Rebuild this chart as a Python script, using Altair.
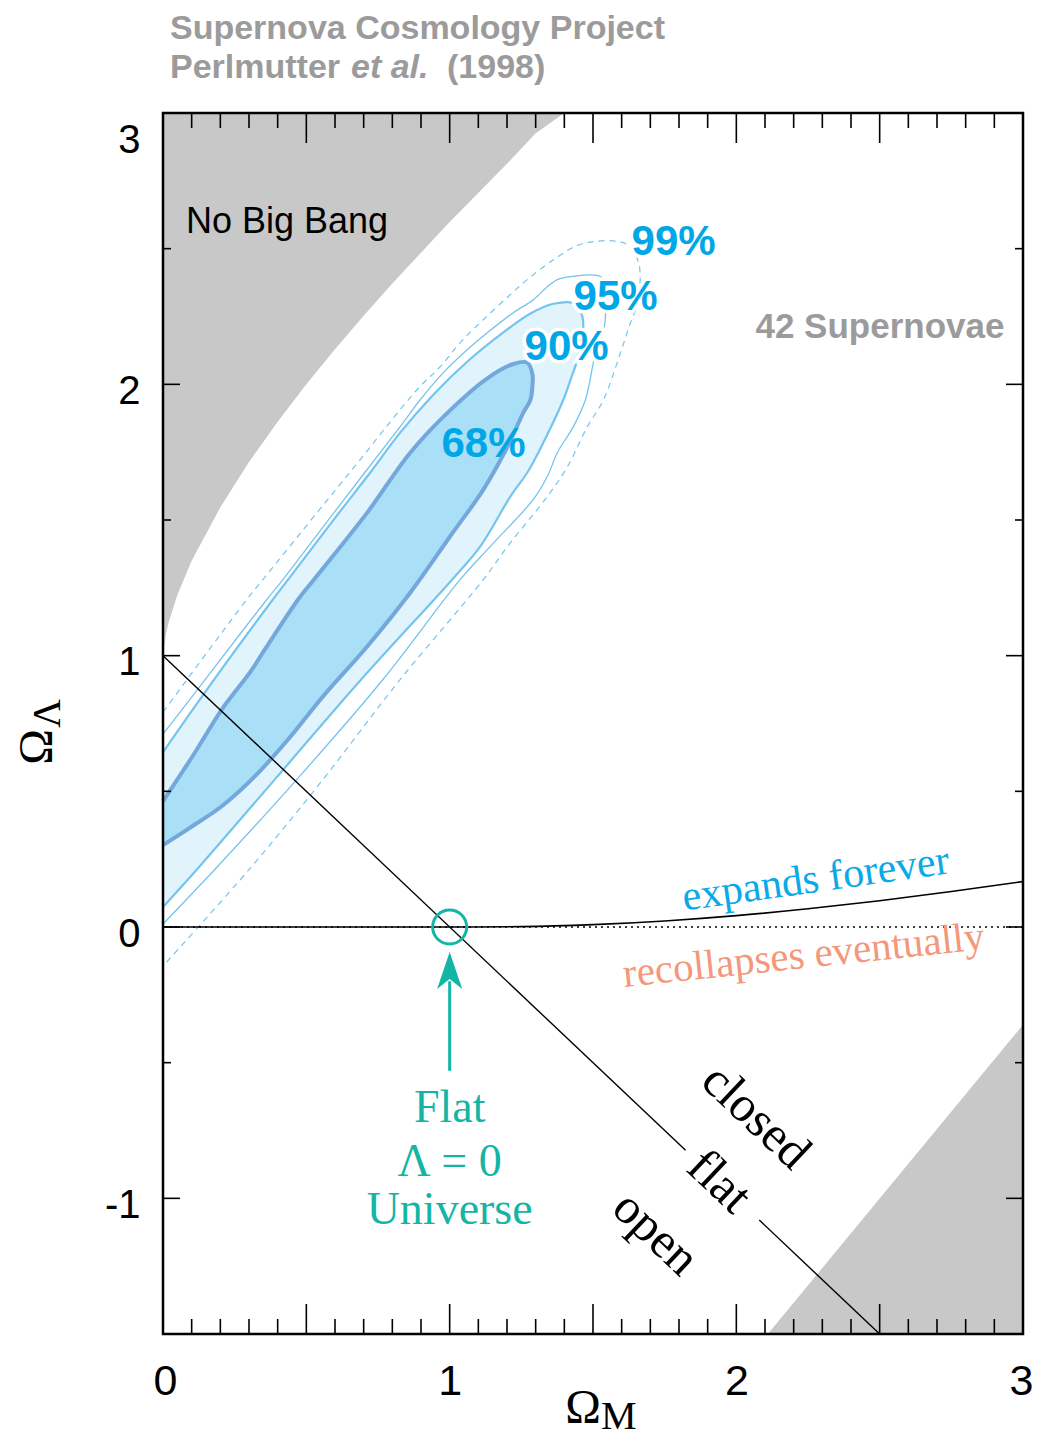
import altair as alt
import pandas as pd

# ---------------- data ----------------
# confidence contours: traced along the upper-left edge to the tip, then back along the lower-right edge
c68_om = [0.00, 0.112, 0.206, 0.304, 0.356, 0.472, 0.527, 0.713, 0.863, 1.002, 1.135, 1.222, 1.271, 1.289,
          1.289, 1.282, 1.257, 1.202, 1.118, 1.002, 0.863, 0.713, 0.559, 0.437, 0.321, 0.206, 0.087, 0.00]
c68_ol = [0.464, 0.644, 0.803, 0.939, 1.024, 1.208, 1.281, 1.528, 1.749, 1.905, 2.025, 2.075, 2.080, 2.036,
          1.999, 1.944, 1.896, 1.771, 1.613, 1.440, 1.233, 1.035, 0.851, 0.692, 0.556, 0.446, 0.361, 0.302]

c90_om = [0.00, 0.129, 0.384, 0.437, 0.615, 0.723, 0.828, 0.943, 1.062, 1.177, 1.282, 1.362, 1.439, 1.463,
          1.463, 1.446, 1.422, 1.397, 1.327, 1.271, 1.212, 1.107, 1.009, 0.692, 0.391, 0.129, 0.00]
c90_ol = [0.644, 0.839, 1.208, 1.281, 1.528, 1.675, 1.823, 1.962, 2.084, 2.183, 2.261, 2.297, 2.297, 2.250,
          2.165, 2.091, 2.018, 1.944, 1.786, 1.675, 1.587, 1.403, 1.281, 0.913, 0.545, 0.225, 0.074]

c95_om = [0.00, 0.094, 0.363, 0.419, 0.597, 0.828, 0.898, 0.978, 1.062, 1.132, 1.222, 1.292, 1.341, 1.376, 1.422,
          1.526, 1.540, 1.540, 1.509, 1.474, 1.432, 1.376, 1.341, 1.292, 1.142, 1.037, 0.768, 0.468, 0.192, 0.00]
c95_ol = [0.711, 0.839, 1.208, 1.281, 1.528, 1.845, 1.944, 2.043, 2.128, 2.191, 2.264, 2.312, 2.360, 2.386, 2.397,
          2.397, 2.349, 2.213, 2.117, 1.944, 1.845, 1.749, 1.661, 1.576, 1.403, 1.281, 0.913, 0.545, 0.225, 0.011]

c99_om = [0.00, 0.293, 0.349, 0.538, 0.660, 0.887, 0.968, 1.037, 1.118, 1.212, 1.271, 1.362, 1.463, 1.614, 1.659,
          1.656, 1.631, 1.596, 1.537, 1.481, 1.411, 1.341, 1.202, 1.118, 0.828, 0.559, 0.311, 0.00]
c99_ol = [0.792, 1.208, 1.281, 1.528, 1.686, 1.981, 2.066, 2.154, 2.239, 2.331, 2.386, 2.459, 2.518, 2.518, 2.448,
          2.301, 2.228, 2.117, 1.944, 1.845, 1.697, 1.587, 1.403, 1.281, 0.913, 0.545, 0.225, -0.144]

# "No Big Bang" boundary
nbb_om = [0.0, 0.01, 0.02, 0.05, 0.1, 0.2, 0.3, 0.4, 0.5, 0.6, 0.7, 0.8, 1.0, 1.2, 1.3, 1.40]
nbb_ol = [1.0, 1.08, 1.124, 1.224, 1.35, 1.547, 1.714, 1.862, 2.0, 2.129, 2.253, 2.372, 2.598, 2.813, 2.925, 3.0]

# lower-right excluded region
br_om = [2.11, 3.0]
br_ol = [-1.5, -0.36]

# expands forever / recollapses boundary
exp_om = [0.0, 1.0, 1.25, 1.5, 1.75, 2.0, 2.25, 2.5, 2.75, 3.0]
exp_ol = [0.0, 0.0, 0.0015, 0.0087, 0.0223, 0.0419, 0.067, 0.0965, 0.1306, 0.1675]

# flat-universe line (gap where "flat" is written)
flat_om = [0.0, 1.823, 2.08, 2.5]
flat_ol = [1.0, -0.823, -1.08, -1.5]
flat_seg = ["a", "a", "b", "b"]

# ticks
x_minor = [0.1, 0.2, 0.3, 0.4, 0.6, 0.7, 0.8, 0.9, 1.1, 1.2, 1.3, 1.4, 1.6, 1.7, 1.8, 1.9,
           2.1, 2.2, 2.3, 2.4, 2.6, 2.7, 2.8, 2.9]
x_major = [0.5, 1.0, 1.5, 2.0, 2.5]
y_minor = [-0.5, 0.5, 1.5, 2.5]
y_major = [-1.0, 0.0, 1.0, 2.0]
x_labels = [0, 1, 2, 3]
y_labels = [-1, 0, 1, 2, 3]

# annotations
pct_om = [1.781, 1.579, 1.408, 1.118]
pct_ol = [2.478, 2.275, 2.091, 1.734]
pct_txt = ["99%", "95%", "90%", "68%"]

curv_om = [2.068, 1.940, 1.718]
curv_ol = [-0.700, -0.939, -1.130]
curv_txt = ["closed", "flat", "open"]

flat0_om = [1.0, 1.0, 1.0]
flat0_ol = [-0.718, -0.917, -1.094]
flat0_txt = ["Flat", "Λ = 0", "Universe"]

# ---------------- chart ----------------
W, H = 860, 1221
GRAY = "#C8C8C8"
TEAL = "#14B5A4"
LBLUE = "#74C4EE"
PCT = "#00A7E6"
SANS = "Liberation Sans"
SERIF = "Liberation Serif"
SMOOTH = "catmull-rom"

xs = alt.Scale(domain=[0, 3], nice=False, zero=False)
ys = alt.Scale(domain=[-1.5, 3], nice=False, zero=False)
x_axis = alt.Axis(values=x_labels, ticks=False, domain=False, grid=False, title=None,
                  labelFont=SANS, labelFontSize=43, labelPadding=26, labelColor="black",
                  labelFlush=True, labelFlushOffset=10, labelExpr="datum.value + ''")
y_axis = alt.Axis(values=y_labels, ticks=False, domain=False, grid=False, title=None,
                  labelFont=SANS, labelFontSize=40, labelPadding=23, labelColor="black",
                  labelExpr="datum.value + ''", labelFlush=True, labelOffset=7)


def X(f="om"):
    return alt.X(f"{f}:Q", scale=xs, axis=x_axis)


def Y(f="ol"):
    return alt.Y(f"{f}:Q", scale=ys, axis=y_axis)


def poly_df(om, ol):
    return pd.DataFrame({"om": om, "ol": ol, "i": list(range(len(om)))})


layers = []

# gray excluded regions
nbb = pd.DataFrame({"om": nbb_om, "ol": nbb_ol, "top": [3.0] * len(nbb_om)})
layers.append(alt.Chart(nbb).mark_area(color=GRAY, orient="vertical").encode(
    x=X(), y=Y(), y2="top:Q"))
br = pd.DataFrame({"om": br_om, "ol": br_ol, "bot": [-1.5] * len(br_om)})
layers.append(alt.Chart(br).mark_area(color=GRAY, orient="vertical").encode(
    x=X(), y=Y(), y2="bot:Q"))

# contour fills
layers.append(alt.Chart(poly_df(c90_om, c90_ol)).mark_line(
    fill="#E1F4FC", stroke=None, strokeWidth=0, interpolate=SMOOTH).encode(x=X(), y=Y(), order="i:Q"))
layers.append(alt.Chart(poly_df(c68_om, c68_ol)).mark_line(
    fill="#AADFF8", stroke=None, strokeWidth=0, interpolate=SMOOTH).encode(x=X(), y=Y(), order="i:Q"))
# contour outlines
layers.append(alt.Chart(poly_df(c90_om, c90_ol)).mark_line(
    color=LBLUE, strokeWidth=2.2, interpolate=SMOOTH).encode(x=X(), y=Y(), order="i:Q"))
layers.append(alt.Chart(poly_df(c95_om, c95_ol)).mark_line(
    color=LBLUE, strokeWidth=1.3, interpolate=SMOOTH).encode(x=X(), y=Y(), order="i:Q"))
layers.append(alt.Chart(poly_df(c99_om, c99_ol)).mark_line(
    color=LBLUE, strokeWidth=1.2, strokeDash=[6, 5], interpolate=SMOOTH).encode(x=X(), y=Y(), order="i:Q"))
layers.append(alt.Chart(poly_df(c68_om, c68_ol)).mark_line(
    color="#74A7DC", strokeWidth=4, interpolate=SMOOTH).encode(x=X(), y=Y(), order="i:Q"))

# expansion boundary and Lambda = 0 dotted line
layers.append(alt.Chart(pd.DataFrame({"om": exp_om, "ol": exp_ol})).mark_line(
    color="black", strokeWidth=1.6, interpolate="monotone").encode(x=X(), y=Y()))
layers.append(alt.Chart(pd.DataFrame({"om": [0.0, 3.0], "ol": [0.0, 0.0]})).mark_line(
    color="black", strokeWidth=1.6, strokeDash=[2, 4]).encode(x=X(), y=Y()))
# flat line
layers.append(alt.Chart(pd.DataFrame({"om": flat_om, "ol": flat_ol, "seg": flat_seg})).mark_line(
    color="black", strokeWidth=1.4).encode(x=X(), y=Y(), detail="seg:N"))

# percentage labels (white halo on the outer three)
pct = pd.DataFrame({"om": pct_om, "ol": pct_ol, "t": pct_txt})
layers.append(alt.Chart(pct.iloc[:3]).mark_text(
    font=SANS, fontSize=42, fontWeight="bold", align="center", baseline="alphabetic",
    stroke="white", strokeWidth=7, color="white").encode(x=X(), y=Y(), text="t:N"))
layers.append(alt.Chart(pct).mark_text(
    font=SANS, fontSize=42, fontWeight="bold", align="center", baseline="alphabetic",
    color=PCT).encode(x=X(), y=Y(), text="t:N"))

# No Big Bang / 42 Supernovae
layers.append(alt.Chart(pd.DataFrame({"om": [0.080], "ol": [2.559], "t": ["No Big Bang"]})).mark_text(
    font=SANS, fontSize=36, align="left", baseline="alphabetic", color="black").encode(
    x=X(), y=Y(), text="t:N"))
layers.append(alt.Chart(pd.DataFrame({"om": [2.501], "ol": [2.172], "t": ["42 Supernovae"]})).mark_text(
    font=SANS, fontSize=35, fontWeight="bold", align="center", baseline="alphabetic",
    color="#9B9B9B").encode(x=X(), y=Y(), text="t:N"))

# expands forever / recollapses eventually
layers.append(alt.Chart(pd.DataFrame({"om": [2.277], "ol": [0.177], "t": ["expands forever"]})).mark_text(
    font=SERIF, fontSize=42, align="center", baseline="middle", angle=352, color="#0AA9E8").encode(
    x=X(), y=Y(), text="t:N"))
layers.append(alt.Chart(pd.DataFrame({"om": [2.235], "ol": [-0.107], "t": ["recollapses eventually"]})).mark_text(
    font=SERIF, fontSize=41, align="center", baseline="middle", angle=354, color="#F4977B").encode(
    x=X(), y=Y(), text="t:N"))

# closed / flat / open
layers.append(alt.Chart(pd.DataFrame({"om": curv_om, "ol": curv_ol, "t": curv_txt})).mark_text(
    font=SERIF, fontSize=50, align="center", baseline="middle", angle=43.4, color="black").encode(
    x=X(), y=Y(), text="t:N"))

# Flat Lambda=0 universe marker
layers.append(alt.Chart(pd.DataFrame({"om": [1.0], "ol": [0.0]})).mark_point(
    shape="circle", size=1156, filled=False, color=TEAL, strokeWidth=3, opacity=1).encode(x=X(), y=Y()))
layers.append(alt.Chart(pd.DataFrame({"om": [1.0], "ol": [-0.530], "ol2": [-0.20]})).mark_rule(
    color=TEAL, strokeWidth=3).encode(x=X(), y=Y(), y2="ol2:Q"))
layers.append(alt.Chart(pd.DataFrame({"om": [1.0], "ol": [-0.160]})).mark_point(
    shape="M0,-1L0.68,1L0,0.46L-0.68,1Z", size=1369, filled=True, color=TEAL, opacity=1,
    strokeWidth=0).encode(x=X(), y=Y()))
layers.append(alt.Chart(pd.DataFrame({"om": flat0_om, "ol": flat0_ol, "t": flat0_txt})).mark_text(
    font=SERIF, fontSize=46, align="center", baseline="alphabetic", color=TEAL).encode(
    x=X(), y=Y(), text="t:N"))

# inward ticks on all four sides
xmin = pd.DataFrame({"om": x_minor})
xmaj = pd.DataFrame({"om": x_major})
ymin = pd.DataFrame({"ol": y_minor})
ymaj = pd.DataFrame({"ol": y_major})
tk = dict(color="black", strokeWidth=1.6)
layers.append(alt.Chart(xmin).mark_rule(**tk).encode(x=X(), y=alt.value(H), y2=alt.value(H - 15)))
layers.append(alt.Chart(xmin).mark_rule(**tk).encode(x=X(), y=alt.value(0), y2=alt.value(15)))
layers.append(alt.Chart(xmaj).mark_rule(**tk).encode(x=X(), y=alt.value(H), y2=alt.value(H - 30)))
layers.append(alt.Chart(xmaj).mark_rule(**tk).encode(x=X(), y=alt.value(0), y2=alt.value(30)))
layers.append(alt.Chart(ymin).mark_rule(**tk).encode(y=Y(), x=alt.value(0), x2=alt.value(8)))
layers.append(alt.Chart(ymin).mark_rule(**tk).encode(y=Y(), x=alt.value(W), x2=alt.value(W - 8)))
layers.append(alt.Chart(ymaj).mark_rule(**tk).encode(y=Y(), x=alt.value(0), x2=alt.value(17)))
layers.append(alt.Chart(ymaj).mark_rule(**tk).encode(y=Y(), x=alt.value(W), x2=alt.value(W - 17)))

# plot frame on top of everything
layers.append(alt.Chart(pd.DataFrame({"k": [0]})).mark_rect(
    fill=None, fillOpacity=0, stroke="black", strokeWidth=2.5).encode(
    x=alt.value(0), x2=alt.value(W), y=alt.value(0), y2=alt.value(H)))

# axis titles (Omega with subscripts) and header
layers.append(alt.Chart(pd.DataFrame({"t": ["Ω"]})).mark_text(
    font=SERIF, fontSize=48, align="right", baseline="alphabetic", color="black").encode(
    x=alt.value(438), y=alt.value(1310), text="t:N"))
layers.append(alt.Chart(pd.DataFrame({"t": ["M"]})).mark_text(
    font=SERIF, fontSize=40, align="left", baseline="alphabetic", color="black").encode(
    x=alt.value(438), y=alt.value(1316), text="t:N"))
layers.append(alt.Chart(pd.DataFrame({"t": ["Ω"]})).mark_text(
    font=SERIF, fontSize=48, align="center", baseline="alphabetic", angle=270, color="black").encode(
    x=alt.value(-111), y=alt.value(634), text="t:N"))
layers.append(alt.Chart(pd.DataFrame({"t": ["Λ"]})).mark_text(
    font=SERIF, fontSize=40, align="left", baseline="alphabetic", angle=270, color="black").encode(
    x=alt.value(-103), y=alt.value(615), text="t:N"))

hdr = dict(font=SANS, fontSize=34, fontWeight="bold", align="left",
           baseline="alphabetic", color="#9B9B9B")
layers.append(alt.Chart(pd.DataFrame({"t": ["Supernova Cosmology Project"]})).mark_text(**hdr).encode(
    x=alt.value(7), y=alt.value(-74), text="t:N"))
layers.append(alt.Chart(pd.DataFrame({"t": ["Perlmutter"]})).mark_text(**hdr).encode(
    x=alt.value(7), y=alt.value(-35), text="t:N"))
layers.append(alt.Chart(pd.DataFrame({"t": ["et al."]})).mark_text(fontStyle="italic", **hdr).encode(
    x=alt.value(188), y=alt.value(-35), text="t:N"))
layers.append(alt.Chart(pd.DataFrame({"t": ["(1998)"]})).mark_text(**hdr).encode(
    x=alt.value(284), y=alt.value(-35), text="t:N"))

chart = alt.layer(*layers).properties(
    width=W, height=H,
    autosize=alt.AutoSizeParams(type="none"),
    padding={"left": 155, "top": 105, "right": 9, "bottom": 104},
).configure(background="white").configure_view(stroke=None, strokeWidth=0)

chart.save("out.html", embed_options={"renderer": "svg", "actions": False})
